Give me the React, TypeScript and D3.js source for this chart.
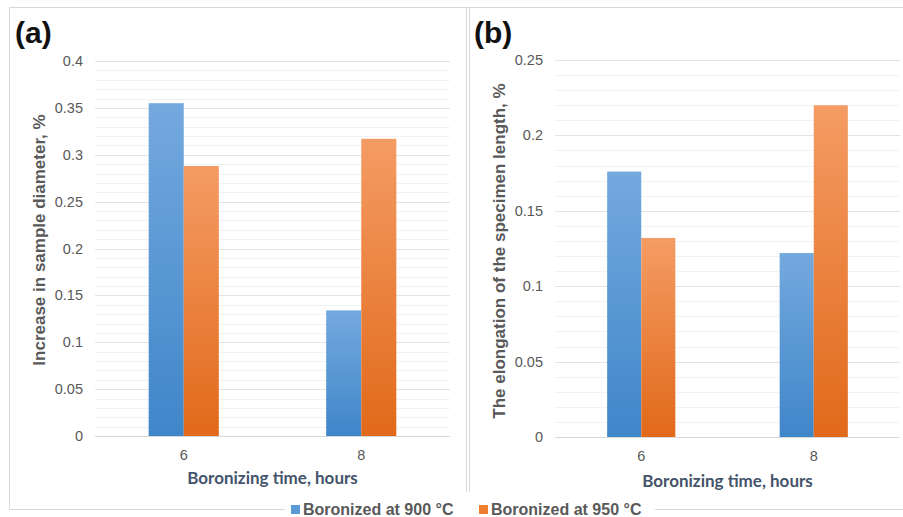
import * as d3 from 'd3'
import { useEffect, useRef } from 'react'

const categories = ['6', '8']
const seriesNames = ['Boronized at 900 °C', 'Boronized at 950 °C']
const diameter900 = [0.355, 0.134]
const diameter950 = [0.288, 0.317]
const elongation900 = [0.176, 0.122]
const elongation950 = [0.132, 0.22]
const ticksA = [0, 0.05, 0.1, 0.15, 0.2, 0.25, 0.3, 0.35, 0.4]
const ticksB = [0, 0.05, 0.1, 0.15, 0.2, 0.25]

const W = 903
const H = 517

export default function App() {
    const ref = useRef(null)

    useEffect(() => {
        const svg = d3.select(ref.current)
        svg.selectAll('*').remove()

        const defs = svg.append('defs')
        const grads = [
            { id: 'gBlue', top: '#74a9de', bottom: '#3f86c9' },
            { id: 'gOrange', top: '#f49c64', bottom: '#e1691a' },
        ]
        grads.forEach(g => {
            const lg = defs.append('linearGradient')
                .attr('id', g.id)
                .attr('x1', 0).attr('y1', 0).attr('x2', 0).attr('y2', 1)
            lg.append('stop').attr('offset', '0%').attr('stop-color', g.top)
            lg.append('stop').attr('offset', '100%').attr('stop-color', g.bottom)
        })

        // frame
        svg.append('rect')
            .attr('x', 9.5).attr('y', 7.5)
            .attr('width', W + 20).attr('height', 502)
            .attr('fill', 'none').attr('stroke', '#d9d9d9')
        svg.append('line').attr('x1', 466.5).attr('x2', 466.5).attr('y1', 7).attr('y2', 492).attr('stroke', '#d9d9d9')
        svg.append('line').attr('x1', 469.5).attr('x2', 469.5).attr('y1', 7).attr('y2', 492).attr('stroke', '#d9d9d9')

        const panels = [
            {
                label: '(a)', labelX: 15, left: 95, right: 450, top: 61, bottom: 436,
                max: 0.4, ticks: ticksA, values: [diameter900, diameter950],
                yTitle: 'Increase in sample diameter, %', yTitleX: 45, yTitleC: 240, xTitleY: 484
            },
            {
                label: '(b)', labelX: 474, left: 555, right: 900, top: 60, bottom: 437,
                max: 0.25, ticks: ticksB, values: [elongation900, elongation950],
                yTitle: 'The elongation of the specimen length, %', yTitleX: 505, yTitleC: 251, xTitleY: 487
            },
        ]

        panels.forEach(p => {
            const g = svg.append('g')
            const x = d3.scaleBand()
                .domain(categories)
                .range([p.left, p.right])
            const y = d3.scaleLinear()
                .domain([0, p.max])
                .range([p.bottom, p.top])

            // minor grid
            const minor = d3.range(0, Math.round(p.max * 100) + 1).map(d => d / 100)
            g.append('g').selectAll('line')
                .data(minor)
                .join('line')
                .attr('x1', p.left).attr('x2', p.right)
                .attr('y1', d => Math.round(y(d)) + 0.5)
                .attr('y2', d => Math.round(y(d)) + 0.5)
                .attr('stroke', '#f2f2f2')

            // major grid
            g.append('g').selectAll('line')
                .data(p.ticks)
                .join('line')
                .attr('x1', p.left).attr('x2', p.right)
                .attr('y1', d => Math.round(y(d)) + 0.5)
                .attr('y2', d => Math.round(y(d)) + 0.5)
                .attr('stroke', d => d === 0 ? '#d9d9d9' : '#e3e3e3')

            // tick labels
            g.append('g').selectAll('text')
                .data(p.ticks)
                .join('text')
                .attr('x', p.left - 12)
                .attr('y', d => y(d))
                .attr('dy', '0.35em')
                .attr('text-anchor', 'end')
                .attr('font-family', 'Liberation Sans, Arial, sans-serif')
                .attr('font-size', 14.5)
                .attr('fill', '#595959')
                .text(d => String(d))

            const inner = d3.scaleBand()
                .domain(d3.range(p.values.length).map(String))
                .range([0, x.bandwidth()])
                .paddingOuter(1.53)

            p.values.forEach((vals, si) => {
                g.append('g').selectAll('rect')
                    .data(vals)
                    .join('rect')
                    .attr('x', (d, i) => x(categories[i]) + inner(String(si)))
                    .attr('y', d => y(d))
                    .attr('width', inner.bandwidth())
                    .attr('height', d => y(0) - y(d))
                    .attr('fill', si === 0 ? 'url(#gBlue)' : 'url(#gOrange)')
            })

            // category labels
            g.append('g').selectAll('text')
                .data(categories)
                .join('text')
                .attr('x', d => x(d) + x.bandwidth() / 2)
                .attr('y', p.bottom + 24)
                .attr('text-anchor', 'middle')
                .attr('font-family', 'Liberation Sans, Arial, sans-serif')
                .attr('font-size', 14.5)
                .attr('fill', '#595959')
                .text(d => d)

            g.append('text')
                .attr('x', (p.left + p.right) / 2)
                .attr('y', p.xTitleY)
                .attr('text-anchor', 'middle')
                .attr('font-family', 'Lato, sans-serif')
                .attr('font-weight', 'bold')
                .attr('font-size', 17)
                .attr('fill', '#44546a')
                .text('Boronizing time, hours')

            g.append('text')
                .attr('transform', `translate(${p.yTitleX},${p.yTitleC}) rotate(-90)`)
                .attr('text-anchor', 'middle')
                .attr('font-family', 'Liberation Sans, Arial, sans-serif')
                .attr('font-weight', 'bold')
                .attr('font-size', 17)
                .attr('fill', '#595959')
                .text(p.yTitle)

            g.append('text')
                .attr('x', p.labelX)
                .attr('y', 43)
                .attr('font-family', 'Liberation Sans, Arial, sans-serif')
                .attr('font-weight', 'bold')
                .attr('font-size', 30)
                .attr('fill', '#111')
                .text(p.label)
        })

        // legend
        const legendY = 509
        const legendX = [291, 479]
        const lg = svg.append('g')
        lg.append('rect')
            .attr('x', 285).attr('y', 498)
            .attr('width', 370).attr('height', 20)
            .attr('fill', '#fff')
        seriesNames.forEach((name, i) => {
            lg.append('rect')
                .attr('x', legendX[i]).attr('y', legendY - 4)
                .attr('width', 9).attr('height', 9)
                .attr('fill', i === 0 ? '#5b9bd5' : '#ed7d31')
            lg.append('text')
                .attr('x', legendX[i] + 12)
                .attr('y', legendY)
                .attr('dy', '0.35em')
                .attr('font-family', 'Liberation Sans, Arial, sans-serif')
                .attr('font-weight', 'bold')
                .attr('font-size', 16)
                .attr('fill', '#595959')
                .text(name)
        })
    }, [])

    return (
        <svg ref={ref} width={W} height={H}
            style={{ position: 'absolute', left: 0, top: 0, background: '#fff' }} />
    )
}
